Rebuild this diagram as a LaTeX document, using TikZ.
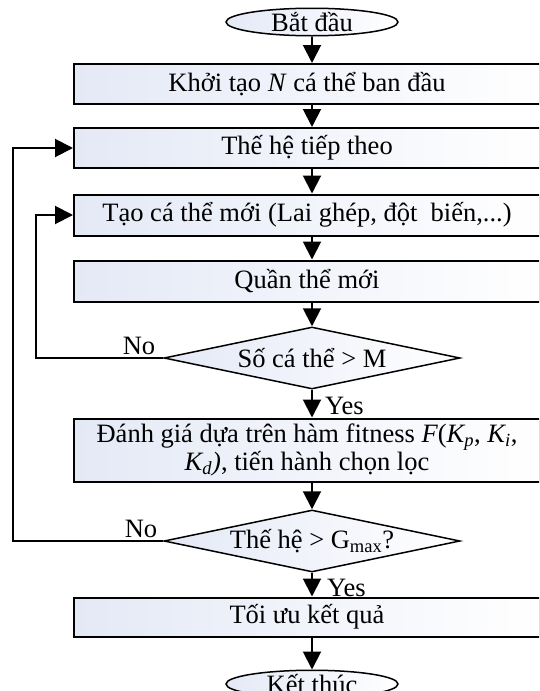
\documentclass[tikz,border=0pt]{standalone}
\usepackage{fontspec}
\setmainfont{Liberation Serif}
\usetikzlibrary{shapes.geometric,arrows.meta}
\definecolor{boxblue}{RGB}{228,233,246}
\begin{document}
\begin{tikzpicture}[x=1pt,y=-1pt,
  font=\fontsize{26.5}{25}\selectfont,
  every node/.style={inner sep=0pt},
  procbox/.style={draw, line width=2pt, rectangle, minimum width=466pt,
    minimum height=40pt, left color=boxblue, right color=white},
  decision/.style={draw, line width=1.5pt, diamond, aspect=4.77,
    minimum width=296pt, minimum height=62pt, left color=boxblue, right color=white},
  terminal/.style={draw, line width=1.5pt, ellipse, minimum width=172pt,
    minimum height=25pt, left color=boxblue, right color=white},
  flow/.style={line width=2pt, -{Triangle[length=18pt,width=18pt]}},
  loopline/.style={line width=2pt, -{Triangle[length=18pt,width=18pt]}},
  tag/.style={inner sep=0pt}
]
\useasboundingbox (0,0) rectangle (539,691);
\clip (0,0) rectangle (539,691);
\fill[white] (0,0) rectangle (539,691);

% main column (boxes run past the right edge)
\node[terminal] (start) at (312,22) {Bắt đầu};
\node[procbox] (b1) at (307,84) {Khởi tạo \textit{N} cá thể ban đầu};
\node[procbox] (b2) at (307,148) {Thế hệ tiếp theo};
\node[procbox, minimum height=41pt] (b3) at (307,215) {Tạo cá thể mới (Lai ghép, đột\ \ biến,...)};
\node[procbox, minimum height=41pt] (b4) at (307,281) {Quần thể mới};
\node[decision] (d1) at (312,358) {Số cá thể > M};
\node[procbox, minimum height=63pt, align=center] (b5) at (307,450)
  {Đánh giá dựa trên hàm fitness \textit{F}(\textit{K\textsubscript{p}}, \textit{K\textsubscript{i}},\\
   \textit{K\textsubscript{d})}, tiến hành chọn lọc};
\node[decision] (d2) at (312,541) {Thế hệ > G\textsubscript{max}?};
\node[procbox, minimum height=39pt] (b6) at (307,617) {Tối ưu kết quả};
\node[terminal] (stop) at (312,684) {Kết thúc};

% straight flow along the vertical axis x = 312
\draw[flow] (start) -- (start |- b1.north);
\draw[flow] (start |- b1.south) -- (start |- b2.north);
\draw[flow] (start |- b2.south) -- (start |- b3.north);
\draw[flow] (start |- b3.south) -- (start |- b4.north);
\draw[flow] (start |- b4.south) -- (d1);
\draw[flow] (d1) -- (d1 |- b5.north);
\draw[flow] (d1 |- b5.south) -- (d2);
\draw[flow] (d2) -- (d2 |- b6.north);
\draw[flow] (d2 |- b6.south) -- (stop);

% feedback loops
\coordinate (c1) at (36,358);
\coordinate (c2) at (13,541);
\draw[loopline] (d1.west) -- (c1) |- (b3.west);
\draw[loopline] (d2.west) -- (c2) |- (b2.west);

% branch labels
\node[tag] (no1) at (139,346) {No};
\node[tag] (no2) at (141,529) {No};
\node[tag, anchor=west] (yes1) at (325,406) {Yes};
\node[tag, anchor=west] (yes2) at (327,588) {Yes};
\end{tikzpicture}
\end{document}
